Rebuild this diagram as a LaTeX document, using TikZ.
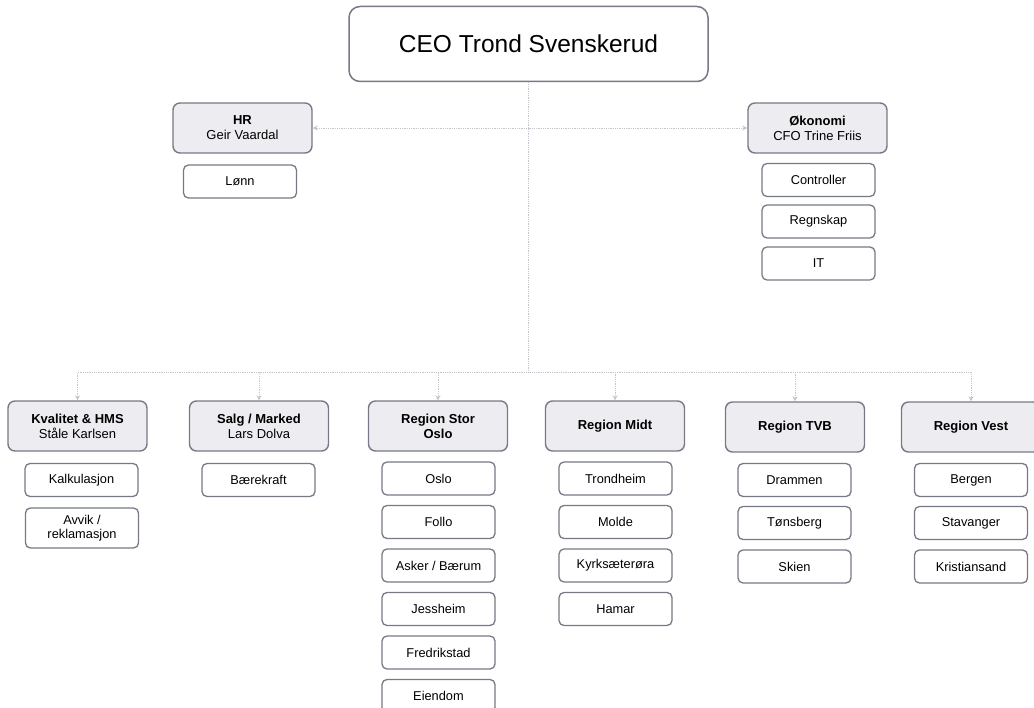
\documentclass[tikz,border=0pt]{standalone}
\usepackage{fontspec}
\setmainfont{Liberation Sans}
\usetikzlibrary{arrows.meta}
\definecolor{bordc}{HTML}{777A86}
\definecolor{hdrfill}{HTML}{EDEDF1}
\definecolor{linec}{HTML}{C4C6CE}
\tikzset{
  hdrbox/.style={draw=bordc, line width=1.4pt, fill=hdrfill, rounded corners=7pt,
    minimum width=139pt, minimum height=50pt, align=center, inner sep=2pt,
    font=\fontsize{13}{15}\selectfont},
  subbox/.style={draw=bordc, line width=1.3pt, fill=white, rounded corners=5pt,
    minimum width=113pt, minimum height=33pt, align=center, inner sep=2pt,
    font=\fontsize{12.8}{14}\selectfont},
  ceobox/.style={draw=bordc, line width=1.5pt, fill=white, rounded corners=11pt,
    minimum width=359pt, minimum height=75pt, font=\fontsize{24.5}{28}\selectfont},
  conn/.style={draw=linec, line width=0.8pt, densely dotted},
  arr/.style={-{Stealth[length=5pt,width=5pt]}},
}
\begin{document}
\begin{tikzpicture}[x=1pt,y=-1pt]
\useasboundingbox (0,0) rectangle (1034,708);
\clip (0,0) rectangle (1034,708);
% top
\node[ceobox] (ceo) at (528.5,44) {CEO Trond Svenskerud};
\node[hdrbox] (hr) at (242.5,128) {\textbf{HR}\\Geir Vaardal};
\node[subbox] (lonn) at (240,181.5) {Lønn};
\node[hdrbox] (okon) at (817.5,128) {\textbf{Økonomi}\\CFO Trine Friis};
\node[subbox] (ctrl) at (818.5,180) {Controller};
\node[subbox] (regn) at (818.5,221.5) {Regnskap};
\node[subbox] (it) at (818.5,263.5) {IT};
% bottom headers
\node[hdrbox] (kval) at (77.5,426) {\textbf{Kvalitet \& HMS}\\Ståle Karlsen};
\node[hdrbox] (salg) at (259,426) {\textbf{Salg / Marked}\\Lars Dolva};
\node[hdrbox] (oslo) at (438,426) {\textbf{Region Stor}\\\textbf{Oslo}};
\node[hdrbox] (midt) at (615,426) {\textbf{Region Midt}};
\node[hdrbox] (tvb) at (795,427) {\textbf{Region TVB}};
\node[hdrbox] (vest) at (971,427) {\textbf{Region Vest}};
% subs
\node[subbox] (kalk) at (81.5,480) {Kalkulasjon};
\node[subbox, minimum height=40pt] (avvik) at (82,528) {Avvik /\\reklamasjon};
\node[subbox] (baere) at (258.5,480) {Bærekraft};
\node[subbox] (o1) at (438.5,478.5) {Oslo};
\node[subbox] (o2) at (438.5,522) {Follo};
\node[subbox] (o3) at (438.5,565.5) {Asker / Bærum};
\node[subbox] (o4) at (438.5,609) {Jessheim};
\node[subbox] (o5) at (438.5,652.5) {Fredrikstad};
\node[subbox] (o6) at (438.5,696) {Eiendom};
\node[subbox] (m1) at (615.5,478.5) {Trondheim};
\node[subbox] (m2) at (615.5,522) {Molde};
\node[subbox] (m3) at (615.5,565.5) {Kyrksæterøra};
\node[subbox] (m4) at (615.5,609) {Hamar};
\node[subbox] (t1) at (794.5,480) {Drammen};
\node[subbox] (t2) at (794.5,523) {Tønsberg};
\node[subbox] (t3) at (794.5,566.5) {Skien};
\node[subbox] (v1) at (971,480) {Bergen};
\node[subbox] (v2) at (971,523) {Stavanger};
\node[subbox] (v3) at (971,566.5) {Kristiansand};
% connectors
\coordinate (j1) at (528.5,128);
\coordinate (j2) at (528.5,372);
\draw[conn] (ceo.south) -- (j2);
\draw[conn,arr] (j1) -- (hr.east);
\draw[conn,arr] (j1) -- (okon.west);
\foreach \n in {kval,salg,oslo,midt,tvb,vest}{
  \draw[conn,arr] (j2) -| (\n.north);
}
\end{tikzpicture}
\end{document}
